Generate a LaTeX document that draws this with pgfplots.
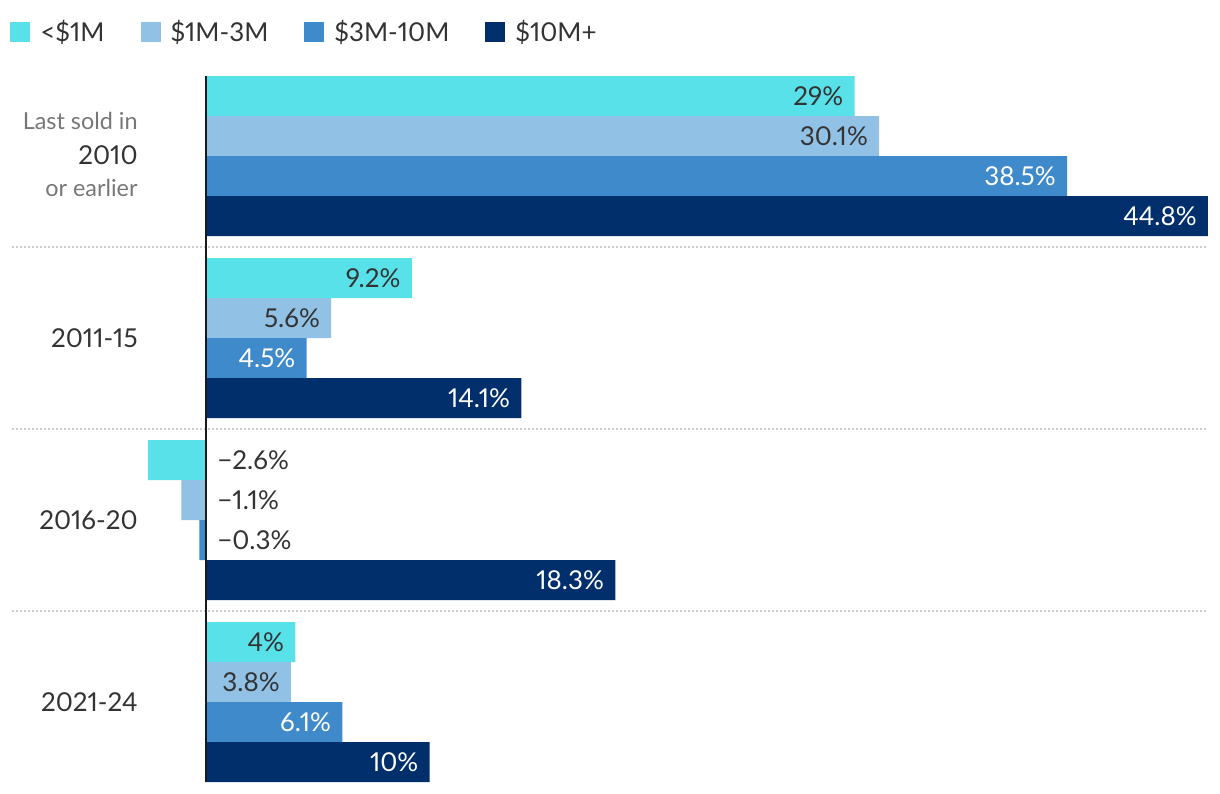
\documentclass[border=0pt]{standalone}
\usepackage{fontspec}
\setmainfont{Lato}[Numbers=Proportional]
\usepackage{pgfplots}
\usepackage{pgfplotstable}
\pgfplotsset{compat=1.18}

\definecolor{cA}{HTML}{59E1EA}
\definecolor{cB}{HTML}{92C1E6}
\definecolor{cC}{HTML}{3F8ACB}
\definecolor{cD}{HTML}{002F6C}
\definecolor{txt}{HTML}{333333}
\definecolor{sub}{HTML}{777777}
\definecolor{sep}{HTML}{CCCCCC}

% y = group index (0 = last sold in 2010 or earlier)
\pgfplotstableread{
y x label
0 29 29
1 9.2 9.2
2 -2.6 −2.6
3 4 4
}\tabA
\pgfplotstableread{
y x label
0 30.1 30.1
1 5.6 5.6
2 -1.1 −1.1
3 3.8 3.8
}\tabB
\pgfplotstableread{
y x label
0 38.5 38.5
1 4.5 4.5
2 -0.3 −0.3
3 6.1 6.1
}\tabC
\pgfplotstableread{
y x label
0 44.8 44.8
1 14.1 14.1
2 18.3 18.3
3 10 10
}\tabD

\newcommand\lbl{\fontsize{13}{15}\selectfont}
\newcommand\sml{\fontsize{11.7}{14}\selectfont}

\begin{document}
\begin{tikzpicture}
\begin{axis}[
    xbar, bar width=0.21978,
    x=11.183pt, y=91pt,
    xmin=-9.2104, xmax=45.337,
    ymin=-0.8571, ymax=3.5055,
    y dir=reverse,
    hide axis, clip=false,
    point meta=explicit symbolic,
    visualization depends on={\thisrow{x} \as \xv},
    % negative values are written in dark text beside the zero line
    nodes near coords={\pgfmathtruncatemacro\isneg{\xv<0}%
        \ifnum\isneg=1 \color{txt}\fi\pgfplotspointmeta\%},
    every node near coord/.append style={font=\lbl, inner sep=0pt},
    coordinate style/.condition={x>=0}{anchor=east, xshift=-5.5pt},
    coordinate style/.condition={x<0}{anchor=west, xshift={(0-\xv)*11.183pt+5.5pt}},
    legend columns=4,
    legend style={at={(axis description cs:0.0082,0.9597)}, anchor=west,
        draw=none, fill=none, inner sep=0pt, font=\lbl, text=txt,
        /tikz/every odd column/.append style={column sep=3pt},
        /tikz/every even column/.append style={column sep=16pt}},
    legend image code/.code={\fill[#1] (0pt,-5pt) rectangle (10pt,5pt);},
]
\addplot[fill=cA, draw=none, bar shift=-0.32967, nodes near coords style={text=txt}]
    table[x=x, y=y, meta=label] {\tabA};
\addlegendentry{<\$1M}
\addplot[fill=cB, draw=none, bar shift=-0.10989, nodes near coords style={text=txt}]
    table[x=x, y=y, meta=label] {\tabB};
\addlegendentry{\$1M-3M}
\addplot[fill=cC, draw=none, bar shift=0.10989, nodes near coords style={text=white}]
    table[x=x, y=y, meta=label] {\tabC};
\addlegendentry{\$3M-10M}
\addplot[fill=cD, draw=none, bar shift=0.32967, nodes near coords style={text=white}]
    table[x=x, y=y, meta=label] {\tabD};
\addlegendentry{\$10M+}

% dotted separators between groups
\draw[sep, line width=0.75pt, dash pattern=on 1pt off 1pt]
    (axis cs:-8.674,0.5) -- (axis cs:44.8,0.5);
\draw[sep, line width=0.75pt, dash pattern=on 1pt off 1pt]
    (axis cs:-8.674,1.5) -- (axis cs:44.8,1.5);
\draw[sep, line width=0.75pt, dash pattern=on 1pt off 1pt]
    (axis cs:-8.674,2.5) -- (axis cs:44.8,2.5);
% zero line
\draw[black!90, line width=1pt] (axis cs:0,-0.4396) -- (axis cs:0,3.4396);

% category labels
\node[anchor=base east, inner sep=0pt, text=sub, font=\sml] at (axis cs:-3.04,-0.1429) {Last sold in};
\node[anchor=base east, inner sep=0pt, text=txt, font=\lbl] at (axis cs:-3.04,0.044) {2010};
\node[anchor=base east, inner sep=0pt, text=sub, font=\sml] at (axis cs:-3.04,0.2198) {or earlier};
\node[anchor=base east, inner sep=0pt, text=txt, font=\lbl] at (axis cs:-3.04,1.0495) {2011-15};
\node[anchor=base east, inner sep=0pt, text=txt, font=\lbl] at (axis cs:-3.04,2.0495) {2016-20};
\node[anchor=base east, inner sep=0pt, text=txt, font=\lbl] at (axis cs:-3.04,3.0495) {2021-24};

\coordinate (BL) at (axis cs:-9.2104,3.5055);
\coordinate (TR) at (axis cs:45.337,-0.8571);
\end{axis}
\pgfresetboundingbox
\path[use as bounding box] (BL) rectangle (TR);
\end{tikzpicture}
\end{document}
